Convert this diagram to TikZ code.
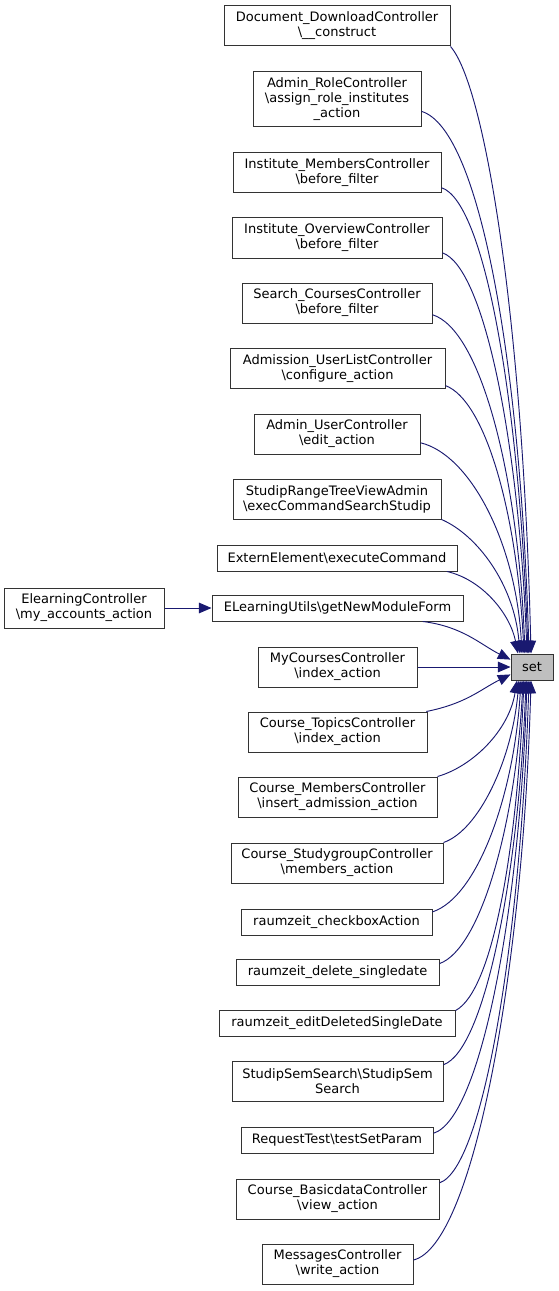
\documentclass[tikz,border=0pt]{standalone}
\usepackage{fontspec}
\setmainfont{DejaVu Sans}
\usetikzlibrary{arrows.meta, calc}
\definecolor{cE}{HTML}{191970}
\definecolor{cS}{HTML}{BFBFBF}
\tikzset{
  fn/.style={draw=black!80, fill=white, line width=0.75pt, inner sep=0pt, align=center,
    font=\fontsize{9.75}{11.2}\selectfont, minimum height=30pt},
  one/.style={minimum height=19.5pt},
  three/.style={minimum height=41.25pt},
  call/.style={draw=cE, line width=0.7pt, -{Triangle[length=9.5pt,width=8pt]}, fill=none}
}

\begin{document}
\begin{tikzpicture}[x=0.75pt, y=-0.75pt]
    \useasboundingbox (0,0) rectangle (559,1291);

    % The called function
    \node[fn, one, fill=cS, minimum width=31.5pt] (set) at (532,667) {set};

    % Callers above
    \node[fn, minimum width=169.5pt] (doc) at (337,26) {Document\_DownloadController\\\textbackslash\_\_construct};
    \node[fn, three, minimum width=126pt] (arole) at (337,99.5) {Admin\_RoleController\\\textbackslash assign\_role\_institutes\\\_action};
    \node[fn, minimum width=156pt] (imem) at (337,173) {Institute\_MembersController\\\textbackslash before\_filter};
    \node[fn, minimum width=157.5pt] (iover) at (337,238) {Institute\_OverviewController\\\textbackslash before\_filter};
    \node[fn, minimum width=142.5pt] (search) at (337,303) {Search\_CoursesController\\\textbackslash before\_filter};
    \node[fn, minimum width=161.25pt] (admis) at (337.5,368.5) {Admission\_UserListController\\\textbackslash configure\_action};
    \node[fn, minimum width=124.5pt] (auser) at (337,434) {Admin\_UserController\\\textbackslash edit\_action};
    \node[fn, minimum width=156pt] (srange) at (337,499) {StudipRangeTreeViewAdmin\\\textbackslash execCommandSearchStudip};
    \node[fn, one, minimum width=180pt] (extern) at (337,558) {ExternElement\textbackslash executeCommand};
    \node[fn, one, minimum width=188.25pt] (elu) at (337.5,608) {ELearningUtils\textbackslash getNewModuleForm};
    \node[fn, minimum width=120pt] (elctrl) at (84,608) {ElearningController\\\textbackslash my\_accounts\_action};

    % Callers level with and below
    \node[fn, minimum width=119.25pt] (mycourses) at (337.5,667) {MyCoursesController\\\textbackslash index\_action};
    \node[fn, minimum width=134.25pt] (topics) at (337.5,732) {Course\_TopicsController\\\textbackslash index\_action};
    \node[fn, minimum width=149.25pt] (cmem) at (337.5,797) {Course\_MembersController\\\textbackslash insert\_admission\_action};
    \node[fn, minimum width=159pt] (sgroup) at (337,863) {Course\_StudygroupController\\\textbackslash members\_action};
    \node[fn, one, minimum width=143.25pt] (checkbox) at (336.5,922) {raumzeit\_checkboxAction};
    \node[fn, one, minimum width=152.25pt] (delete) at (337.5,972.5) {raumzeit\_delete\_singledate};
    \node[fn, one, minimum width=177pt] (editdel) at (337,1023) {raumzeit\_editDeletedSingleDate};
    \node[fn, minimum width=158.25pt] (ssearch) at (337.5,1081.5) {StudipSemSearch\textbackslash StudipSem\\Search};
    \node[fn, one, minimum width=144pt] (reqtest) at (337,1140) {RequestTest\textbackslash testSetParam};
    \node[fn, minimum width=152.25pt] (basic) at (337.5,1199) {Course\_BasicdataController\\\textbackslash view\_action};
    \node[fn, minimum width=113.25pt] (messages) at (337.5,1264) {MessagesController\\\textbackslash write\_action};

    % Edges into the top of set
    \draw[call] (doc.south east) .. controls +(35,40) and +(-8,-330) .. ($(set.north)+(-1,0)$);
    \draw[call] (arole.-8.5) .. controls +(60,18) and +(-8,-280) .. ($(set.north)+(-3,0)$);
    \draw[call] (imem.-8.2) .. controls +(45,15) and +(-8,-240) .. ($(set.north)+(-4,0)$);
    \draw[call] (iover.-8.7) .. controls +(42,15) and +(-8,-210) .. ($(set.north)+(-5,0)$);
    \draw[call] (search.-7.2) .. controls +(48,15) and +(-7,-180) .. ($(set.north)+(-7,0)$);
    \draw[call] (admis.-9.8) .. controls +(40,15) and +(-7,-140) .. ($(set.north)+(-8,0)$);
    \draw[call] (auser.-6.2) .. controls +(50,12) and +(-6,-110) .. ($(set.north)+(-10,0)$);
    \draw[call] (srange.south east) .. controls +(35,15) and +(-6,-70) .. ($(set.north)+(-12,0)$);
    \draw[call] (extern.-7.6) .. controls +(35,8) and +(-8,-40) .. ($(set.north)+(-14,0)$);

    % Edges into the left side
    \draw[call] (elctrl) -- (elu);
    \draw[call] (elu.-9.4) .. controls +(40,5) and +(-30,-15) .. (set.161);
    \draw[call] (mycourses) -- (set);
    \draw[call] (topics.13.3) .. controls +(40,-8) and +(-30,15) .. (set.199);

    % Edges into the bottom of set
    \draw[call] (cmem.north east) .. controls +(35,-10) and +(-8,50) .. ($(set.south)+(-15,0)$);
    \draw[call] (sgroup.north east) .. controls +(35,-12) and +(-7,80) .. ($(set.south)+(-13,0)$);
    \draw[call] (checkbox.6) .. controls +(45,-15) and +(-7,115) .. ($(set.south)+(-11,0)$);
    \draw[call] (delete.5.9) .. controls +(42,-15) and +(-7,140) .. ($(set.south)+(-9,0)$);
    \draw[call] (editdel.6.8) .. controls +(38,-20) and +(-7,165) .. ($(set.south)+(-8,0)$);
    \draw[call] (ssearch.9.9) .. controls +(42,-15) and +(-7,190) .. ($(set.south)+(-6,0)$);
    \draw[call] (reqtest.4.2) .. controls +(48,-15) and +(-7,225) .. ($(set.south)+(-5,0)$);
    \draw[call] (basic.9) .. controls +(45,-15) and +(-8,250) .. ($(set.south)+(-3,0)$);
    \draw[call] (messages.3.8) .. controls +(60,-15) and +(-8,290) .. ($(set.south)+(-1,0)$);
\end{tikzpicture}
\end{document}
